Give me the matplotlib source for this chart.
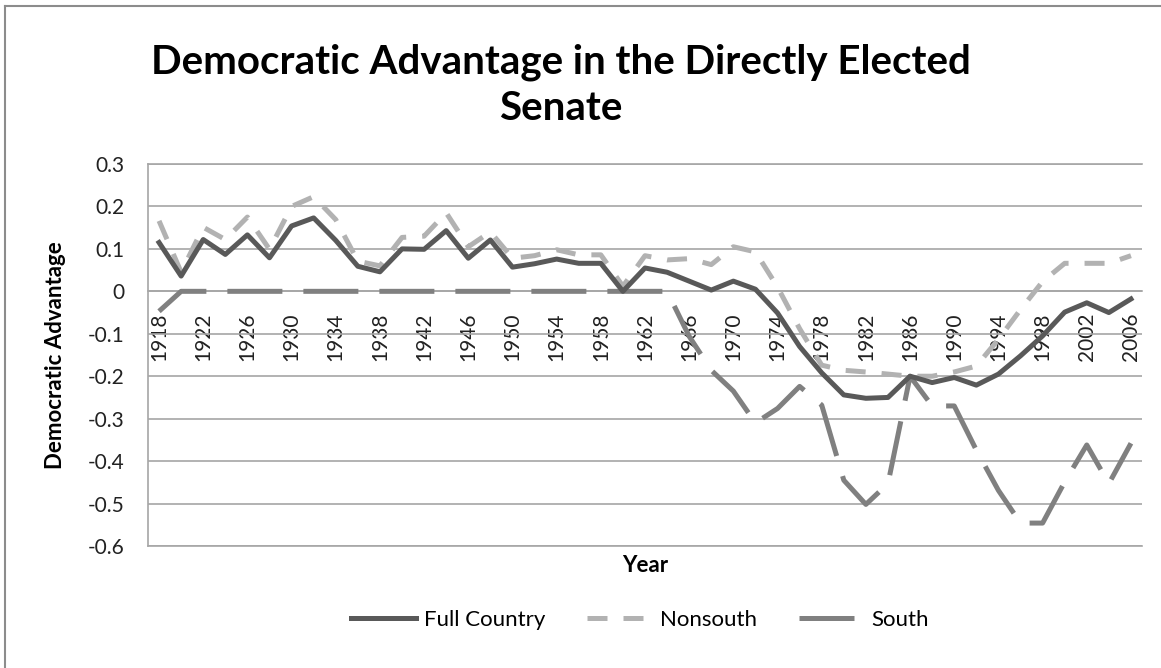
import matplotlib
matplotlib.use("Agg")
import matplotlib.pyplot as plt
from matplotlib.lines import Line2D
import numpy as np

# datos (cada 2 anios)
years = [1918, 1920, 1922, 1924, 1926, 1928, 1930, 1932, 1934, 1936,
         1938, 1940, 1942, 1944, 1946, 1948, 1950, 1952, 1954, 1956,
         1958, 1960, 1962, 1964, 1966, 1968, 1970, 1972, 1974, 1976,
         1978, 1980, 1982, 1984, 1986, 1988, 1990, 1992, 1994, 1996,
         1998, 2000, 2002, 2004, 2006]

full_country = [0.115, 0.036, 0.122, 0.087, 0.133, 0.079, 0.154, 0.173, 0.120, 0.059,
                0.046, 0.100, 0.099, 0.143, 0.078, 0.121, 0.057, 0.065, 0.076, 0.066,
                0.066, 0.000, 0.055, 0.045, 0.024, 0.003, 0.024, 0.005, -0.051, -0.130,
                -0.192, -0.244, -0.252, -0.250, -0.200, -0.215, -0.203, -0.221, -0.195, -0.152,
                -0.105, -0.049, -0.027, -0.050, -0.018]

nonsouth = [0.166, 0.045, 0.151, 0.122, 0.175, 0.099, 0.200, 0.223, 0.169, 0.071,
            0.060, 0.127, 0.130, 0.185, 0.105, 0.140, 0.078, 0.084, 0.098, 0.086,
            0.086, 0.012, 0.084, 0.074, 0.077, 0.063, 0.105, 0.093, 0.010, -0.088,
            -0.174, -0.186, -0.190, -0.195, -0.200, -0.200, -0.190, -0.176, -0.113, -0.043,
            0.023, 0.066, 0.066, 0.066, 0.084]

south = [-0.047, 0.0, 0.0, 0.0, 0.0, 0.0, 0.0, 0.0, 0.0, 0.0,
         0.0, 0.0, 0.0, 0.0, 0.0, 0.0, 0.0, 0.0, 0.0, 0.0,
         0.0, 0.0, 0.0, 0.0, -0.106, -0.186, -0.235, -0.310, -0.276, -0.224,
         -0.268, -0.445, -0.502, -0.453, -0.200, -0.270, -0.270, -0.374, -0.469, -0.546,
         -0.546, -0.449, -0.362, -0.453, -0.358]

series_names = ["Full Country", "Nonsouth", "South"]
y_ticks = [0.3, 0.2, 0.1, 0, -0.1, -0.2, -0.3, -0.4, -0.5, -0.6]

FUENTE = "Lato"
GRIS_GRID = "#a6a6a6"


def main():
    fig = plt.figure(figsize=(11.61, 6.68), dpi=100)
    ax = fig.add_axes([148 / 1161, 1 - 546 / 668, 994 / 1161, 382 / 668])
    dibujar_series(ax)
    formato_ejes(ax)
    textos(fig, ax)
    # borde exterior del area del grafico (solo arriba e izquierda visibles)
    fig.add_artist(Line2D([5 / 1161, 5 / 1161], [0, 1 - 6 / 668],
                          transform=fig.transFigure, color="#8c8c8c", lw=1.5))
    fig.add_artist(Line2D([5 / 1161, 1], [1 - 6 / 668, 1 - 6 / 668],
                          transform=fig.transFigure, color="#8c8c8c", lw=1.5))
    fig.savefig("out.png", dpi=100)


def dibujar_series(ax):
    x = np.arange(len(years))
    ax.plot(x, full_country, color="#595959", lw=3.6, label=series_names[0],
            solid_joinstyle="round", zorder=5)
    ax.plot(x, nonsouth, color="#b2b2b2", lw=3.6, dashes=(4, 3.2),
            label=series_names[1], zorder=4)
    ax.plot(x, south, color="#808080", lw=3.6, dashes=(11, 4.2),
            label=series_names[2], zorder=3)


def formato_ejes(ax):
    # primero mover el eje x a y=0 (set_position reinicia los ticks)
    ax.spines["bottom"].set_position(("data", 0))
    ax.set_xlim(-0.5, len(years) - 0.5)
    ax.set_ylim(-0.6, 0.3)
    ax.set_yticks(y_ticks)
    ax.set_yticklabels(["0" if v == 0 else f"{v:g}" for v in y_ticks],
                       fontsize=15, family=FUENTE, color="#222222")
    idx = np.arange(0, len(years), 2)
    ax.set_xticks(idx)
    ax.set_xticklabels([str(years[i]) for i in idx], rotation=90,
                       fontsize=15, family=FUENTE, color="#222222")
    ax.tick_params(axis="x", length=0, pad=15)
    ax.tick_params(axis="y", length=0, pad=17)
    ax.yaxis.grid(True, color=GRIS_GRID, lw=1.2)
    ax.set_axisbelow(True)
    for lado in ["bottom", "left", "top"]:
        ax.spines[lado].set_color(GRIS_GRID)
        ax.spines[lado].set_linewidth(1.2)
    ax.spines["right"].set_visible(False)
    ax.axhline(-0.6, color=GRIS_GRID, lw=1.2, clip_on=False)


def textos(fig, ax):
    fig.text(561 / 1161, 1 - 62 / 668, "Democratic Advantage in the Directly Elected",
             ha="center", va="center", fontsize=29, fontweight="bold", family=FUENTE)
    fig.text(561 / 1161, 1 - 108 / 668, "Senate",
             ha="center", va="center", fontsize=29, fontweight="bold", family=FUENTE)
    fig.text(55 / 1161, 1 - 355 / 668, "Democratic Advantage", rotation=90,
             ha="center", va="center", fontsize=16, fontweight="bold", family=FUENTE)
    fig.text(645 / 1161, 1 - 565 / 668, "Year", ha="center", va="center",
             fontsize=16, fontweight="bold", family=FUENTE)
    ax.legend(loc="center", bbox_to_anchor=(640 / 1161, 1 - 620 / 668),
              bbox_transform=fig.transFigure, ncol=3, frameon=False,
              prop={"family": FUENTE, "size": 16}, handlelength=2.9,
              handletextpad=0.36, columnspacing=1.9)


if __name__ == "__main__":
    main()
